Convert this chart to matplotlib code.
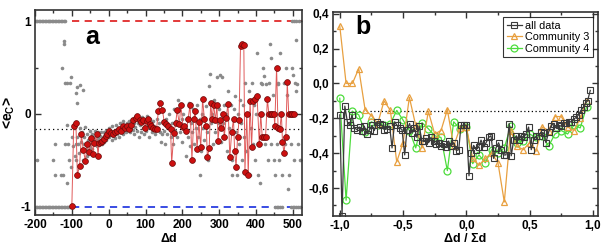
import matplotlib
matplotlib.use("Agg")
import matplotlib.pyplot as plt
from matplotlib.ticker import MultipleLocator, FuncFormatter

plt.rcParams['font.family'] = ['Liberation Sans', 'DejaVu Sans']
plt.rcParams['font.weight'] = 'bold'
plt.rcParams['axes.unicode_minus'] = False
plt.rcParams['mathtext.fontset'] = 'custom'
plt.rcParams['mathtext.rm'] = 'Liberation Sans:bold'

# ---- panel a data ----
red_x = [-100, -95, -89, -85, -79, -74, -69, -63, -59, -53, -49, -43, -39, -33, -29, -26, -22, -17, -13, -8,
         -4, 1, 7, 13, 18, 23, 29, 34, 40, 45, 50, 56, 61, 67, 73, 78, 84, 89, 94, 98,
         103, 107, 112, 116, 121, 125, 130, 135, 140, 146, 151, 157, 162, 168, 171, 177, 182, 186, 192, 196,
         202, 205, 211, 216, 221, 226, 231, 235, 240, 245, 250, 255, 260, 265, 268, 273, 277, 281, 285, 290,
         294, 297, 302, 305, 310, 314, 319, 324, 329, 334, 339, 342, 346, 350, 354, 358, 363, 367, 370, 375,
         379, 384, 388, 393, 397, 403, 409, 413, 417, 422, 426, 431, 435, 440, 444, 449, 451, 456, 460, 465,
         469, 472, 476, 481, 485, 489, 495, 499, 503]
red_y = [-0.99, -0.13, -0.10, -0.66, -0.56, -0.22, -0.39, -0.51, -0.33, -0.41, -0.26, -0.43, -0.31, -0.22, -0.45, -0.31, -0.30, -0.29, -0.27, -0.24,
         -0.22, -0.19, -0.21, -0.22, -0.20, -0.18, -0.16, -0.18, -0.13, -0.15, -0.13, -0.16, -0.12, -0.07, -0.04, -0.02, -0.07, -0.09, -0.07, -0.15,
         -0.08, -0.06, -0.11, -0.13, -0.15, -0.16, -0.16, 0.03, 0.12, 0.04, -0.09, -0.11, -0.13, -0.16, -0.53, -0.21, -0.10, 0.04, -0.11, 0.10,
         -0.14, -0.13, -0.19, -0.05, 0.10, -0.50, -0.06, 0.03, -0.38, -0.09, -0.36, 0.16, -0.06, -0.13, -0.47, -0.37, 0.12, -0.06, 0.10, -0.07,
         0.10, -0.29, -0.07, -0.15, 0.00, -0.25, -0.04, 0.11, -0.47, -0.20, -0.06, -0.40, -0.57, -0.25, -0.07, 0.73, 0.75, 0.74, -0.63, 0.00,
         -0.66, 0.14, -0.36, 0.14, 0.16, 0.19, -0.33, 0.00, -0.25, -0.25, -0.25, 0.16, 0.00, 0.00, 0.00, 0.00, -0.13, 0.50, -0.15, -0.16,
         0.00, -0.30, -0.42, -0.25, 0.34, 0.00, 0.00, 0.00, 0.00]

# gray dots sitting on the +1 / -1 levels
gray_top_x = [-198, -194, -190, -186, -182, -178, -174, -170, -166, -162, -158, -154, -150, -146, -142,
              -138, -134, -130, -126, -122, -118, 498, 503, 508, 516]
gray_bot_x = [-198, -194, -190, -186, -182, -178, -174, -170, -166, -162, -158, -154, -150, -146, -142,
              -138, -134, -130, -126, -122, -118, -114, -110, -106, 452, 456, 461, 466, 471,
              496, 500, 504, 509, 514, 519]

# scattered gray dots (x, y)
gray_pts = [(-196, -0.50), (-152, -0.50), (-146, -0.33), (-146, -0.66), (-130, -0.66), (-128, 0.50),
            (-125, -0.66), (-120, 0.79), (-120, 0.75), (-118, 0.33), (-114, 0.33), (-112, -0.75),
            (-118, -0.33), (-110, -0.33), (-107, -0.50), (-105, 0.33), (-103, 0.40), (-103, -0.57),
            (-100, -0.25), (-114, -0.12), (-89, 0.22), (-86, 0.12), (-85, 0.29), (-78, 0.31), (-71, 0.26),
            (-98, -0.35), (-95, -0.15), (-92, -0.45), (-90, -0.33), (-88, -0.50), (-85, -0.25), (-82, -0.33),
            (-80, -0.42), (-78, -0.15), (-75, -0.30), (-73, -0.20), (-70, -0.50), (-68, -0.25), (-66, -0.33),
            (-64, -0.14), (-62, -0.38), (-60, -0.22), (-58, -0.45), (-56, -0.28), (-54, -0.33), (-52, -0.18),
            (-50, -0.36), (-48, -0.30), (-46, -0.22), (-44, -0.38), (-42, -0.25), (-40, -0.30), (-38, -0.18),
            (-36, -0.33), (-34, -0.28), (-32, -0.35), (-30, -0.20), (-28, -0.26), (-26, -0.34), (-24, -0.24),
            (-22, -0.30), (-20, -0.20), (-18, -0.32), (-16, -0.25), (-14, -0.20), (-12, -0.30), (-10, -0.22),
            (-8, -0.18), (-6, -0.28), (-4, -0.20), (-2, -0.25),
            (0, -0.15), (2, -0.25), (5, -0.20), (8, -0.28), (10, -0.13), (12, -0.24), (15, -0.18), (18, -0.26),
            (20, -0.12), (22, -0.22), (25, -0.17), (28, -0.25), (30, -0.10), (32, -0.20), (35, -0.15),
            (38, -0.22), (40, -0.08), (42, -0.18), (45, -0.12), (48, -0.20), (50, -0.10), (52, -0.16),
            (55, -0.08), (58, -0.20), (60, -0.13), (62, -0.05), (65, -0.17), (68, -0.10), (70, -0.22),
            (72, -0.14), (75, -0.05), (78, -0.18), (80, -0.10), (82, -0.25), (85, -0.12), (88, -0.20),
            (90, -0.03), (92, -0.15), (95, -0.22), (98, -0.08),
            (100, -0.18), (103, -0.02), (106, -0.12), (109, -0.25), (112, -0.05), (115, -0.15), (118, -0.20),
            (121, -0.08), (124, -0.13), (127, -0.22), (130, -0.05), (133, -0.15), (136, -0.10), (139, -0.20),
            (141, -0.30), (145, -0.22), (148, -0.08), (150, -0.18), (152, -0.33), (155, -0.05), (158, -0.22),
            (160, -0.12), (163, 0.00), (166, -0.15), (169, -0.25), (172, -0.10), (175, -0.33), (178, 0.05),
            (180, -0.18), (183, -0.08), (186, -0.25), (189, 0.15), (192, -0.12), (195, -0.20), (198, -0.05),
            (200, -0.30), (203, 0.00), (206, -0.15), (209, -0.45), (212, -0.05), (215, -0.25), (218, 0.12),
            (221, -0.35), (224, -0.10), (227, -0.20), (230, 0.05), (233, -0.33), (236, -0.15), (239, 0.10),
            (242, -0.25), (249, -0.66), (248, -0.05), (251, -0.40), (254, 0.00), (257, -0.15), (260, -0.28),
            (263, 0.08), (266, -0.20), (269, -0.50), (273, 0.30), (276, 0.43), (278, -0.10), (281, 0.00),
            (284, -0.33), (287, 0.15), (290, -0.20), (294, 0.40), (296, -0.10), (299, 0.05),
            (303, 0.42), (305, -0.30), (307, 0.40), (310, -0.10), (313, 0.10), (316, -0.25), (319, 0.00),
            (322, -0.40), (325, 0.25), (328, -0.15), (331, 0.10), (334, -0.50), (336, -0.66), (339, 0.05),
            (343, 0.19), (345, -0.20), (348, -0.66), (350, 0.00),
            (353, -0.33), (356, 0.15), (359, -0.10), (362, -0.50), (365, 0.10), (368, -0.25), (371, 0.33),
            (374, -0.40), (377, 0.00), (380, 0.25), (384, -0.66), (386, -0.15), (389, 0.33), (392, -0.33),
            (395, 0.10), (397, -0.50), (400, 0.00), (402, 0.20), (404, 0.66), (406, -0.66), (408, -0.33),
            (411, -0.75), (414, 0.33), (417, 0.32), (420, 0.50), (422, 0.41), (425, -0.33), (426, 0.32),
            (429, 0.00), (432, -0.50), (435, 0.33), (438, 0.75), (440, -0.33), (442, 0.60), (445, 0.20),
            (448, -0.50), (451, -0.66), (453, 0.00), (456, -0.33), (459, 0.33), (460, 0.32), (463, -0.50),
            (466, 0.66), (469, 0.00), (472, -0.66), (475, 0.33), (478, -0.33), (481, 0.50), (484, 0.20),
            (487, -0.81), (490, -0.66), (493, 0.00), (496, -0.33), (499, 0.50), (501, 0.42), (504, -0.50),
            (507, 0.33), (510, 0.25), (512, 0.32), (515, -0.33), (510, 0.80), (520, -0.50)]

mean_level = -0.16

# ---- panel b data ----
ad_x = [-1.0, -0.982, -0.96, -0.94, -0.922, -0.903, -0.885, -0.864, -0.843, -0.824, -0.806, -0.785, -0.764,
        -0.745, -0.727, -0.706, -0.685, -0.666, -0.648, -0.627, -0.606, -0.587, -0.566, -0.548, -0.527, -0.508,
        -0.487, -0.469, -0.448, -0.43, -0.411, -0.39, -0.372, -0.351, -0.332, -0.317, -0.298, -0.28, -0.259,
        -0.24, -0.219, -0.201, -0.18, -0.161, -0.14, -0.122, -0.1, -0.079, -0.06, -0.042, -0.021, 0.0, 0.021,
        0.037, 0.058, 0.076, 0.097, 0.116, 0.137, 0.156, 0.176, 0.195, 0.216, 0.234, 0.255, 0.274, 0.295,
        0.313, 0.339, 0.355, 0.374, 0.395, 0.414, 0.432, 0.453, 0.471, 0.492, 0.513, 0.532, 0.553, 0.571,
        0.59, 0.611, 0.629, 0.65, 0.668, 0.69, 0.708, 0.729, 0.747, 0.768, 0.787, 0.808, 0.826, 0.847,
        0.868, 0.887, 0.905, 0.926, 0.945, 0.958, 0.979]
ad_y = [-0.18, -0.76, -0.13, -0.22, -0.24, -0.18, -0.255, -0.265, -0.25, -0.275, -0.245, -0.29, -0.265,
        -0.24, -0.27, -0.22, -0.235, -0.24, -0.265, -0.26, -0.245, -0.37, -0.22, -0.24, -0.255, -0.265,
        -0.41, -0.265, -0.23, -0.285, -0.255, -0.31, -0.245, -0.33, -0.33, -0.315, -0.34, -0.31, -0.33,
        -0.35, -0.34, -0.36, -0.35, -0.365, -0.33, -0.36, -0.34, -0.385, -0.38, -0.24, -0.24, -0.24, -0.53,
        -0.40, -0.355, -0.38, -0.365, -0.325, -0.365, -0.34, -0.31, -0.30, -0.43, -0.37, -0.34, -0.38, -0.41,
        -0.41, -0.23, -0.415, -0.325, -0.30, -0.325, -0.30, -0.31, -0.29, -0.25, -0.38, -0.325, -0.30, -0.30,
        -0.28, -0.285, -0.34, -0.28, -0.245, -0.23, -0.255, -0.24, -0.245, -0.225, -0.225, -0.22, -0.22, -0.205,
        -0.195, -0.18, -0.155, -0.135, -0.11, -0.10, -0.04]

c_x = [-1.0, -0.95, -0.9, -0.85, -0.8, -0.75, -0.7, -0.65, -0.6, -0.55, -0.5, -0.45, -0.4, -0.35, -0.3,
       -0.25, -0.2, -0.15, -0.1, -0.05, 0.0, 0.05, 0.1, 0.15, 0.2, 0.25, 0.3, 0.35, 0.4, 0.45, 0.5, 0.55,
       0.6, 0.65, 0.7, 0.75, 0.8, 0.85, 0.9, 0.95]
c3_y = [0.33, 0.00, 0.00, 0.085, -0.15, -0.185, -0.23, -0.10, -0.155, -0.45, -0.34, -0.08, -0.24, -0.37,
        -0.16, -0.29, -0.27, -0.15, -0.36, -0.255, -0.25, -0.43, -0.47, -0.43, -0.40, -0.455, -0.68, -0.27,
        -0.36, -0.38, -0.34, -0.39, -0.25, -0.27, -0.19, -0.19, -0.25, -0.27, -0.20, -0.10]
c4_y = [-0.085, -0.67, -0.16, -0.18, -0.28, -0.22, -0.24, -0.24, -0.23, -0.155, -0.21, -0.27, -0.37, -0.225,
        -0.26, -0.30, -0.31, -0.50, -0.22, -0.26, -0.25, -0.46, -0.41, -0.455, -0.38, -0.40, -0.37, -0.245,
        -0.34, -0.33, -0.29, -0.31, -0.30, -0.36, -0.29, -0.27, -0.29, -0.24, -0.255, -0.135]
labels_b = ["all data", "Community 3", "Community 4"]


def style(ax):
    for s in ax.spines.values():
        s.set_linewidth(1.2)
        s.set_color('#333333')
    ax.tick_params(which='both', direction='in', top=True, right=True, width=1, colors='#333333',
                   labelcolor='black', labelsize=8.5, pad=3)
    ax.tick_params(which='major', length=4)
    ax.tick_params(which='minor', length=2)


fig = plt.figure(figsize=(6.04, 2.44), dpi=100)
ax1 = fig.add_axes([0.058, 0.119, 0.442, 0.840])
ax2 = fig.add_axes([0.551, 0.115, 0.439, 0.836])

# panel a
gx = [p[0] for p in gray_pts]
gy = [p[1] for p in gray_pts]
ax1.plot(gx, gy, 'o', color='#8a8a8a', ms=2.6, mec='none', zorder=2)
ax1.plot(gray_top_x, [1] * len(gray_top_x), 'o', color='#8a8a8a', ms=2.6, mec='none', zorder=2)
ax1.plot(gray_bot_x, [-1] * len(gray_bot_x), 'o', color='#8a8a8a', ms=2.6, mec='none', zorder=2)
ax1.plot([-100, 525], [1, 1], color='#e02a2a', lw=1.3, dashes=(4, 3), zorder=1)
ax1.plot([-100, 525], [-1, -1], color='#2a3ee0', lw=1.3, dashes=(4, 3), zorder=1)
ax1.axhline(mean_level, color='black', lw=0.9, ls=(0, (1, 2.5)), zorder=1)
ax1.plot(red_x, red_y, '-', color='#e05a5a', lw=0.7, zorder=3)
ax1.plot(red_x, red_y, 'o', mfc='#cc1010', mec='#6a0a0a', mew=0.5, ms=4.2, zorder=4)
ax1.set_xlim(-200, 525)
ax1.set_ylim(-1.09, 1.12)
ax1.xaxis.set_major_locator(MultipleLocator(100))
ax1.xaxis.set_minor_locator(MultipleLocator(50))
ax1.set_yticks([-1, 0, 1])
ax1.yaxis.set_minor_locator(MultipleLocator(0.5))
ax1.set_xlabel('\u0394d', fontsize=9, fontweight='bold', labelpad=1)
ax1.set_ylabel(r'<e$_\mathrm{C}$>', fontsize=10, fontweight='bold')
ax1.yaxis.set_label_coords(-0.068, 0.5)
ax1.text(0.213, 0.868, 'a', transform=ax1.transAxes, fontsize=18, fontweight='bold',
         ha='center', va='center')
style(ax1)

# panel b
ax2.plot([-1.0, 0.95], [mean_level, mean_level], color='black', lw=0.9, ls=(0, (1, 2)), zorder=1)
ax2.plot(c_x, c4_y, '-o', color='#4ddc3c', lw=0.9, ms=5, mfc='none', mew=0.9, label=labels_b[2], zorder=2)
ax2.plot(c_x, c3_y, '-^', color='#e8a040', lw=0.9, ms=5, mfc='none', mew=0.9, label=labels_b[1], zorder=3)
ax2.plot(ad_x, ad_y, '-s', color='#3a3a3a', lw=0.9, ms=4.3, mfc='none', mew=0.8, label=labels_b[0], zorder=4)
ax2.set_xlim(-1.055, 1.04)
ax2.set_ylim(-0.76, 0.41)
ax2.xaxis.set_major_locator(MultipleLocator(0.5))
ax2.xaxis.set_minor_locator(MultipleLocator(0.25))
ax2.yaxis.set_major_locator(MultipleLocator(0.2))
ax2.yaxis.set_minor_locator(MultipleLocator(0.1))
comma = FuncFormatter(lambda v, p: ('%.1f' % v).replace('.', ',').replace('-0,0', '0,0'))
ax2.xaxis.set_major_formatter(comma)
ax2.yaxis.set_major_formatter(comma)
ax2.set_xlabel('\u0394d / \u03a3d', fontsize=9, fontweight='bold', labelpad=1)
ax2.text(0.113, 0.926, 'b', transform=ax2.transAxes, fontsize=18, fontweight='bold',
         ha='center', va='center')
h, l = ax2.get_legend_handles_labels()
leg = ax2.legend(h[::-1], l[::-1], loc='upper right', frameon=True, fancybox=False,
                 prop={'size': 7.8, 'weight': 'normal'},
                 edgecolor='black', handlelength=1.4, handletextpad=0.3, labelspacing=0.15,
                 borderpad=0.3, borderaxespad=0.5)
leg.get_frame().set_linewidth(0.8)
style(ax2)

fig.savefig('out.png', dpi=100)
